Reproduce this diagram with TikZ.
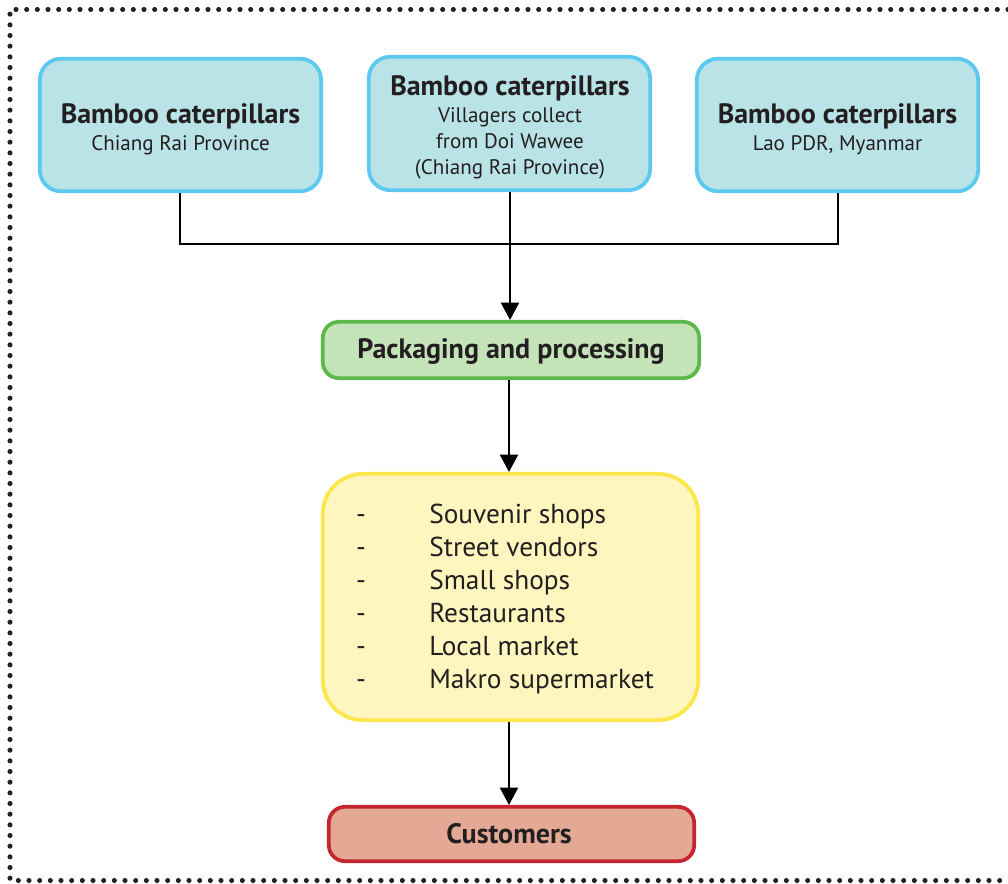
\documentclass[tikz,border=0pt]{standalone}
\usepackage{fontspec}
\setmainfont{PT Sans}
\usetikzlibrary{arrows.meta}
\definecolor{txt}{HTML}{231F20}
\definecolor{blueline}{HTML}{5BC9F0}
\definecolor{bluefill}{HTML}{B9E3E6}
\definecolor{greenline}{HTML}{5CB84A}
\definecolor{greenfill}{HTML}{C5E3B9}
\definecolor{yellowline}{HTML}{FBE74A}
\definecolor{yellowfill}{HTML}{FFF5BE}
\definecolor{redline}{HTML}{C5262F}
\definecolor{redfill}{HTML}{E3A995}
\tikzset{
  srcbox/.style={draw=blueline, fill=bluefill, line width=2.8pt, rounded corners=16pt,
    minimum width=211pt, minimum height=99.5pt, inner sep=0pt},
  procbox/.style={draw=greenline, fill=greenfill, line width=2.8pt, rounded corners=12pt,
    minimum width=282.25pt, minimum height=42.25pt, inner sep=0pt},
  listbox/.style={draw=yellowline, fill=yellowfill, line width=2.8pt, rounded corners=30pt,
    minimum width=281.5pt, minimum height=184.75pt, inner sep=0pt},
  custbox/.style={draw=redline, fill=redfill, line width=2.8pt, rounded corners=12pt,
    minimum width=274pt, minimum height=40.75pt, inner sep=0pt},
  title/.style={anchor=base, text=txt, inner sep=0pt, font=\fontsize{21}{23}\selectfont\bfseries},
  sub/.style={anchor=base, text=txt, inner sep=0pt, font=\fontsize{15.8}{18}\selectfont},
  item/.style={anchor=base west, text=txt, inner sep=0pt, font=\fontsize{20.5}{22}\selectfont},
  dashmark/.style={anchor=base, text=txt, inner sep=0pt, font=\fontsize{20.5}{22}\selectfont},
  conn/.style={line width=1.5pt, draw=black},
  arr/.style={conn, -{Triangle[width=13.5pt,length=13pt]}},
  frame/.style={line width=3.8pt, line cap=round, dash pattern=on 0pt off 8pt, draw=txt}
}
\begin{document}
\begin{tikzpicture}[x=0.75pt,y=-0.75pt]
\useasboundingbox (0,0) rectangle (1008,883);
% dotted frame (right edge lies outside the picture)
\draw[frame] (1040,9.5) -- (10,9.5) -- (10,880.5) -- (1040,880.5);

% boxes
\node[srcbox] (b1) at (180.5,125) {};
\node[srcbox, minimum height=100pt] (b2) at (509.5,123.5) {};
\node[srcbox] (b3) at (837.5,125) {};
\node[procbox] (pp) at (511,350) {};
\node[listbox] (ls) at (510.5,597) {};
\node[custbox] (cu) at (511.5,834) {};

% texts
\node[title] (b1t) at (180.5,123) {Bamboo caterpillars};
\node[sub] (b1s) at (180.5,150.5) {Chiang Rai Province};
\node[title] (b2t) at (510,95) {Bamboo caterpillars};
\node[sub] (b2s1) at (510,122.5) {Villagers collect};
\node[sub] (b2s2) at (510,148.5) {from Doi Wawee};
\node[sub] (b2s3) at (510,174) {(Chiang Rai Province)};
\node[title] (b3t) at (837.5,123) {Bamboo caterpillars};
\node[sub] (b3s) at (837.5,150.5) {Lao PDR, Myanmar};
\node[title] (ppt) at (511,358) {Packaging and processing};
\node[title] (cut) at (509,843) {Customers};

\foreach \t [count=\i] in {Souvenir shops, Street vendors, Small shops, Restaurants, Local market, Makro supermarket}{
  \node[dashmark] (d\i) at (361,{490+33*\i}) {-};
  \node[item] (it\i) at (429,{490+33*\i}) {\t};
}

% connectors
\coordinate (j1) at (180,244);
\coordinate (j3) at (838,244);
\coordinate (jm) at (510,244);
\draw[conn] (b1.south -| j1) -- (j1) -- (j3) -- (b3.south -| j3);
\draw[arr] (b2.south -| jm) -- (pp.north -| jm);
\draw[arr] (pp.south -| 509,0) -- (ls.north -| 509,0);
\draw[arr] (ls.south -| 509,0) -- (cu.north -| 509,0);
\end{tikzpicture}
\end{document}
